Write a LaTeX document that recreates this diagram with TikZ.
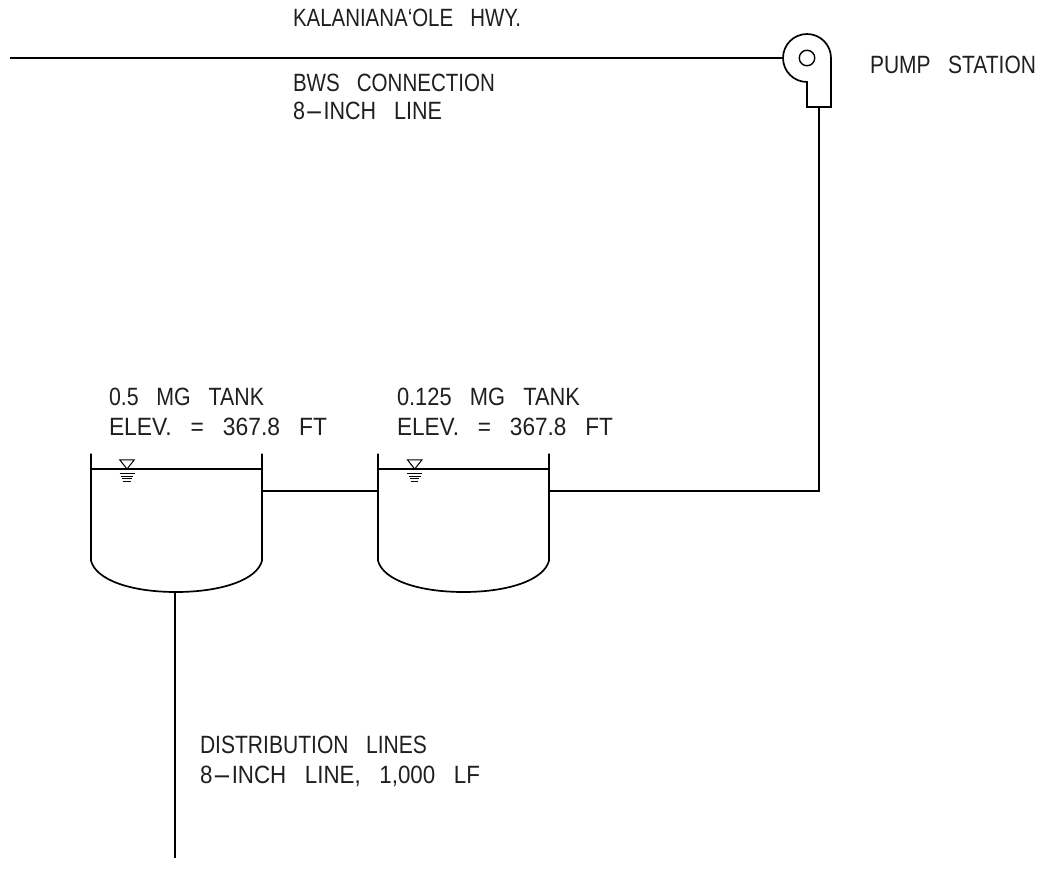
\documentclass[tikz,border=0pt]{standalone}
\usepackage{fontspec}
\setmainfont[WordSpace=3]{Liberation Sans}
\newcommand{\dashch}{\scalebox{2.6}[1]{-}}
\newcommand{\fitw}[2]{\resizebox{#1pt}{\height}{#2}}
\tikzset{x=1pt,y=-1pt,
 pipe/.style={draw=black,line width=1.7pt,line join=miter},
 thin pipe/.style={draw=black,line width=1pt},
 lbl/.style={anchor=base west,inner sep=0pt,outer sep=0pt,font=\fontsize{25}{25}\selectfont,text=black!88}}
\begin{document}
\begin{tikzpicture}
\useasboundingbox (0,0) rectangle (1048,888);
% pump
\draw[pipe] (831,58) arc[start angle=0,end angle=-270,radius=24] -- (807,107) -- (831,107) -- cycle;
\node[circle,draw=black,line width=1.4pt,minimum size=15.5pt,inner sep=0pt] (eye) at (807,58) {};
\coordinate (pumpin) at (783,58);
\coordinate (pumpout) at (819,107);
\coordinate (west) at (10,58);
\draw[pipe] (west) -- (pumpin);
% tanks
\foreach \L/\R/\M/\T in {91/262/176/127,378/549/463.5/414.7}{
 \draw[pipe] (\L,453.5) -- (\L,560.7) .. controls (\L+5,580) and (\M-45,592) .. (\M,592) .. controls (\M+45,592) and (\R-5,580) .. (\R,560.7) -- (\R,453.5);
 \draw[pipe] (\L,469) -- (\R,469);
 \draw[thin pipe] (\T-7.3,459.8) -- (\T+7.3,459.8) -- (\T,469) -- cycle;
 \draw[thin pipe] (\T-7.5,473.4) -- (\T+7.5,473.4);
 \draw[thin pipe] (\T-6,476.2) -- (\T+6,476.2);
 \draw[thin pipe] (\T-4.7,478.9) -- (\T+4.7,478.9);
 \draw[thin pipe] (\T-3.7,481.8) -- (\T+3.7,481.8);
}
\coordinate (t1r) at (262,491);
\coordinate (t2l) at (378,491);
\coordinate (t2r) at (549,491);
\coordinate (t1b) at (175,592);
\coordinate (south) at (175,858);
\draw[pipe] (t1r) -- (t2l);
\draw[pipe] (t2r) -| (pumpout);
\draw[pipe] (t1b) -- (south);
% labels
\node[lbl] (hwy) at (293,27) {\fitw{228}{KALANIANA‘OLE HWY.}};
\node[lbl] (bws) at (293,92) {\fitw{202}{BWS CONNECTION}};
\node[lbl] (line8) at (293,119) {\fitw{149}{8\dashch INCH LINE}};
\node[lbl] (ps) at (870,74) {\fitw{166}{PUMP STATION}};
\node[lbl] (t1a) at (109,405) {\fitw{155}{0.5 MG TANK}};
\node[lbl] (t1e) at (109,435) {\fitw{218}{ELEV. = 367.8 FT}};
\node[lbl] (t2a) at (397,405) {\fitw{183}{0.125 MG TANK}};
\node[lbl] (t2e) at (397,435) {\fitw{216}{ELEV. = 367.8 FT}};
\node[lbl] (d1) at (200,753) {\fitw{227}{DISTRIBUTION LINES}};
\node[lbl] (d2) at (200,783) {\fitw{280}{8\dashch INCH LINE, 1,000 LF}};
\end{tikzpicture}
\end{document}
